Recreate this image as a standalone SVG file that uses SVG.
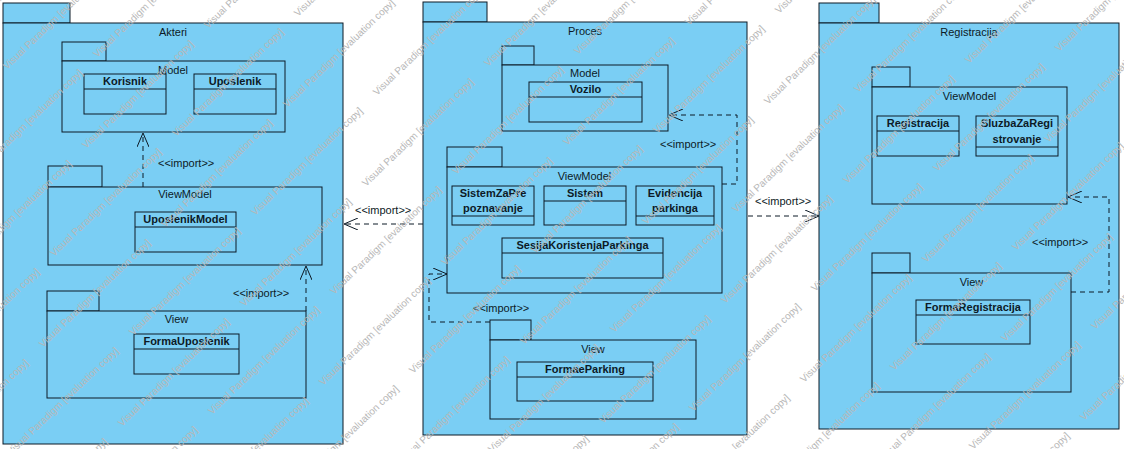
<svg xmlns="http://www.w3.org/2000/svg" xmlns:xlink="http://www.w3.org/1999/xlink" width="1124" height="449" viewBox="0 0 1124 449">
<style>
.pkg{fill:#7ACEF4;stroke:#0d1a26;stroke-width:1}
.cls{fill:#7ACEF4;stroke:#0d1a26;stroke-width:1}
.sep{stroke:#0d1a26;stroke-width:1;fill:none}
.lbl{font-family:"Liberation Sans",Arial,sans-serif;font-size:11px;fill:#0d1a26;text-anchor:middle}
.cn{font-family:"Liberation Sans",Arial,sans-serif;font-size:11px;font-weight:bold;fill:#0d1a26;text-anchor:middle}
.st{font-family:"Liberation Sans",Arial,sans-serif;font-size:11px;fill:#0d1a26}
.dep{fill:none;stroke:#0d1a26;stroke-width:1;stroke-dasharray:5,4;marker-end:url(#open)}
.wm{font-family:"Liberation Sans",Arial,sans-serif;font-size:10px;fill:#b8b8b8}
</style>
<defs>
<marker id="open" viewBox="0 0 14 12" refX="14" refY="6" markerWidth="14" markerHeight="12" markerUnits="userSpaceOnUse" orient="auto">
<path d="M0,0 L14,6 L0,12" fill="none" stroke="#0d1a26" stroke-width="1"/>
</marker>
<text id="wm" class="wm" transform="rotate(-44)">Visual Paradigm [evaluation copy]</text>
</defs>
<rect width="1124" height="449" fill="#ffffff"/>

<g id="pkg-akteri">
<rect class="pkg" x="3" y="3" width="67" height="20"/>
<rect class="pkg" x="3" y="23" width="340" height="421"/>
<text class="lbl" x="173" y="36">Akteri</text>
</g>
<g id="akteri-model">
<rect class="pkg" x="62" y="42" width="44" height="19"/>
<rect class="pkg" x="62" y="61" width="223" height="71"/>
<text class="lbl" x="173" y="74">Model</text>
</g>
<g id="cls-korisnik">
<rect class="cls" x="84" y="74" width="82" height="40"/>
<line class="sep" x1="84" y1="89" x2="166" y2="89"/>
<text class="cn" x="125" y="85">Korisnik</text>
</g>
<g id="cls-uposlenik">
<rect class="cls" x="194" y="74" width="82" height="40"/>
<line class="sep" x1="194" y1="89" x2="276" y2="89"/>
<text class="cn" x="235" y="85">Uposlenik</text>
</g>
<g id="akteri-viewmodel">
<rect class="pkg" x="48" y="166" width="54" height="21"/>
<rect class="pkg" x="48" y="187" width="274" height="78"/>
<text class="lbl" x="185" y="198">ViewModel</text>
</g>
<g id="cls-uposlenikmodel">
<rect class="cls" x="135" y="212" width="101" height="40"/>
<line class="sep" x1="135" y1="227" x2="236" y2="227"/>
<text class="cn" x="185.5" y="223">UposlenikModel</text>
</g>
<g id="akteri-view">
<rect class="pkg" x="47" y="291" width="52" height="20"/>
<rect class="pkg" x="47" y="311" width="259" height="87"/>
<text class="lbl" x="176.5" y="323">View</text>
</g>
<g id="cls-formauposlenik">
<rect class="cls" x="134" y="334" width="105" height="40"/>
<line class="sep" x1="134" y1="349" x2="239" y2="349"/>
<text class="cn" x="186.5" y="345">FormaUposlenik</text>
</g>

<g id="pkg-proces">
<rect class="pkg" x="423" y="2" width="64" height="20"/>
<rect class="pkg" x="423" y="22" width="324" height="413"/>
<text class="lbl" x="585" y="35">Proces</text>
</g>
<g id="proces-model">
<rect class="pkg" x="502" y="46" width="32" height="19"/>
<rect class="pkg" x="502" y="65" width="166" height="66"/>
<text class="lbl" x="585" y="77">Model</text>
</g>
<g id="cls-vozilo">
<rect class="cls" x="529" y="82" width="113" height="40"/>
<line class="sep" x1="529" y1="97" x2="642" y2="97"/>
<text class="cn" x="585.5" y="93">Vozilo</text>
</g>
<g id="proces-viewmodel">
<rect class="pkg" x="447" y="147" width="55" height="20"/>
<rect class="pkg" x="447" y="167" width="275" height="126"/>
<text class="lbl" x="584.5" y="180">ViewModel</text>
</g>
<g id="cls-sistemzaprepoznavanje">
<rect class="cls" x="452" y="186" width="82" height="39"/>
<line class="sep" x1="452" y1="216" x2="534" y2="216"/>
<text class="cn" x="493" y="197">SistemZaPre</text>
<text class="cn" x="493" y="212">poznavanje</text>
</g>
<g id="cls-sistem">
<rect class="cls" x="544" y="186" width="82" height="39"/>
<line class="sep" x1="544" y1="201" x2="626" y2="201"/>
<text class="cn" x="585" y="197">Sistem</text>
</g>
<g id="cls-evidencija">
<rect class="cls" x="636" y="186" width="78" height="39"/>
<line class="sep" x1="636" y1="216" x2="714" y2="216"/>
<text class="cn" x="675" y="197">Evidencija</text>
<text class="cn" x="675" y="212">parkinga</text>
</g>
<g id="cls-sesija">
<rect class="cls" x="502" y="238" width="161" height="40"/>
<line class="sep" x1="502" y1="253" x2="663" y2="253"/>
<text class="cn" x="582.5" y="249">SesijaKoristenjaParkinga</text>
</g>
<g id="proces-view">
<rect class="pkg" x="490" y="320" width="41" height="20"/>
<rect class="pkg" x="490" y="340" width="206" height="79"/>
<text class="lbl" x="593" y="353">View</text>
</g>
<g id="cls-formaeparking">
<rect class="cls" x="517" y="362" width="136" height="39"/>
<line class="sep" x1="517" y1="377" x2="653" y2="377"/>
<text class="cn" x="585" y="373">FormaeParking</text>
</g>

<g id="pkg-registracija">
<rect class="pkg" x="819" y="3" width="60" height="20"/>
<rect class="pkg" x="819" y="23" width="300" height="406"/>
<text class="lbl" x="969" y="36">Registracija</text>
</g>
<g id="reg-viewmodel">
<rect class="pkg" x="872" y="67" width="38" height="20"/>
<rect class="pkg" x="872" y="87" width="195" height="117"/>
<text class="lbl" x="969.5" y="100">ViewModel</text>
</g>
<g id="cls-registracija">
<rect class="cls" x="877" y="116" width="82" height="40"/>
<line class="sep" x1="877" y1="131" x2="959" y2="131"/>
<text class="cn" x="918" y="127">Registracija</text>
</g>
<g id="cls-sluzba">
<rect class="cls" x="976" y="116" width="82" height="40"/>
<line class="sep" x1="976" y1="147" x2="1058" y2="147"/>
<text class="cn" x="1017" y="127">SluzbaZaRegi</text>
<text class="cn" x="1017" y="143">strovanje</text>
</g>
<g id="reg-view">
<rect class="pkg" x="872" y="253" width="38" height="20"/>
<rect class="pkg" x="872" y="273" width="199" height="119"/>
<text class="lbl" x="971.5" y="286">View</text>
</g>
<g id="cls-formaregistracija">
<rect class="cls" x="916" y="300" width="114" height="44"/>
<line class="sep" x1="916" y1="315" x2="1030" y2="315"/>
<text class="cn" x="973" y="311">FormaRegistracija</text>
</g>

<g id="connectors">
<path class="dep" d="M143,187 L143,133"/>
<text class="st" x="158" y="167">&lt;&lt;import&gt;&gt;</text>
<path class="dep" d="M306,311 L306,266"/>
<text class="st" x="233" y="297">&lt;&lt;import&gt;&gt;</text>
<path class="dep" d="M423,224 L344,224"/>
<text class="st" x="355" y="214">&lt;&lt;import&gt;&gt;</text>
<path class="dep" d="M490,322 L429,322 L429,274 L447,274"/>
<text class="st" x="473" y="312">&lt;&lt;import&gt;&gt;</text>
<path class="dep" d="M722,184 L737,184 L737,115 L669,115"/>
<text class="st" x="660" y="148">&lt;&lt;import&gt;&gt;</text>
<path class="dep" d="M748,216 L819,216"/>
<text class="st" x="755" y="205">&lt;&lt;import&gt;&gt;</text>
<path class="dep" d="M1071,292 L1109,292 L1109,197 L1068,197"/>
<text class="st" x="1032" y="246">&lt;&lt;import&gt;&gt;</text>
</g>

<g id="watermark">
<use xlink:href="#wm" x="7" y="70"/>
<use xlink:href="#wm" x="-36" y="269"/><use xlink:href="#wm" x="86" y="149"/><use xlink:href="#wm" x="208" y="29"/>
<use xlink:href="#wm" x="-79" y="468"/><use xlink:href="#wm" x="43" y="348"/><use xlink:href="#wm" x="165" y="228"/><use xlink:href="#wm" x="287" y="108"/>
<use xlink:href="#wm" x="0" y="547"/><use xlink:href="#wm" x="122" y="427"/><use xlink:href="#wm" x="244" y="307"/><use xlink:href="#wm" x="366" y="187"/><use xlink:href="#wm" x="488" y="67"/>
<use xlink:href="#wm" x="201" y="506"/><use xlink:href="#wm" x="323" y="386"/><use xlink:href="#wm" x="445" y="266"/><use xlink:href="#wm" x="567" y="146"/><use xlink:href="#wm" x="689" y="26"/>
<use xlink:href="#wm" x="402" y="465"/><use xlink:href="#wm" x="524" y="345"/><use xlink:href="#wm" x="646" y="225"/><use xlink:href="#wm" x="768" y="105"/>
<use xlink:href="#wm" x="481" y="544"/><use xlink:href="#wm" x="603" y="424"/><use xlink:href="#wm" x="725" y="304"/><use xlink:href="#wm" x="847" y="184"/><use xlink:href="#wm" x="969" y="64"/>
<use xlink:href="#wm" x="682" y="503"/><use xlink:href="#wm" x="804" y="383"/><use xlink:href="#wm" x="926" y="263"/><use xlink:href="#wm" x="1048" y="143"/>
<use xlink:href="#wm" x="883" y="462"/><use xlink:href="#wm" x="1005" y="342"/>
<use xlink:href="#wm" x="962" y="541"/><use xlink:href="#wm" x="1084" y="421"/>
<use xlink:href="#wm" x="-104" y="99"/>
<use xlink:href="#wm" x="-25" y="178"/><use xlink:href="#wm" x="97" y="58"/>
<use xlink:href="#wm" x="-68" y="377"/><use xlink:href="#wm" x="54" y="257"/><use xlink:href="#wm" x="176" y="137"/><use xlink:href="#wm" x="298" y="17"/>
<use xlink:href="#wm" x="11" y="456"/><use xlink:href="#wm" x="133" y="336"/><use xlink:href="#wm" x="255" y="216"/><use xlink:href="#wm" x="377" y="96"/>
<use xlink:href="#wm" x="90" y="535"/><use xlink:href="#wm" x="212" y="415"/><use xlink:href="#wm" x="334" y="295"/><use xlink:href="#wm" x="456" y="175"/><use xlink:href="#wm" x="578" y="55"/>
<use xlink:href="#wm" x="291" y="494"/><use xlink:href="#wm" x="413" y="374"/><use xlink:href="#wm" x="535" y="254"/><use xlink:href="#wm" x="657" y="134"/><use xlink:href="#wm" x="779" y="14"/>
<use xlink:href="#wm" x="492" y="453"/><use xlink:href="#wm" x="614" y="333"/><use xlink:href="#wm" x="736" y="213"/><use xlink:href="#wm" x="858" y="93"/>
<use xlink:href="#wm" x="571" y="532"/><use xlink:href="#wm" x="693" y="412"/><use xlink:href="#wm" x="815" y="292"/><use xlink:href="#wm" x="937" y="172"/><use xlink:href="#wm" x="1059" y="52"/>
<use xlink:href="#wm" x="772" y="491"/><use xlink:href="#wm" x="894" y="371"/><use xlink:href="#wm" x="1016" y="251"/>
<use xlink:href="#wm" x="973" y="450"/><use xlink:href="#wm" x="1095" y="330"/>
<use xlink:href="#wm" x="1052" y="529"/>
</g>
</svg>
